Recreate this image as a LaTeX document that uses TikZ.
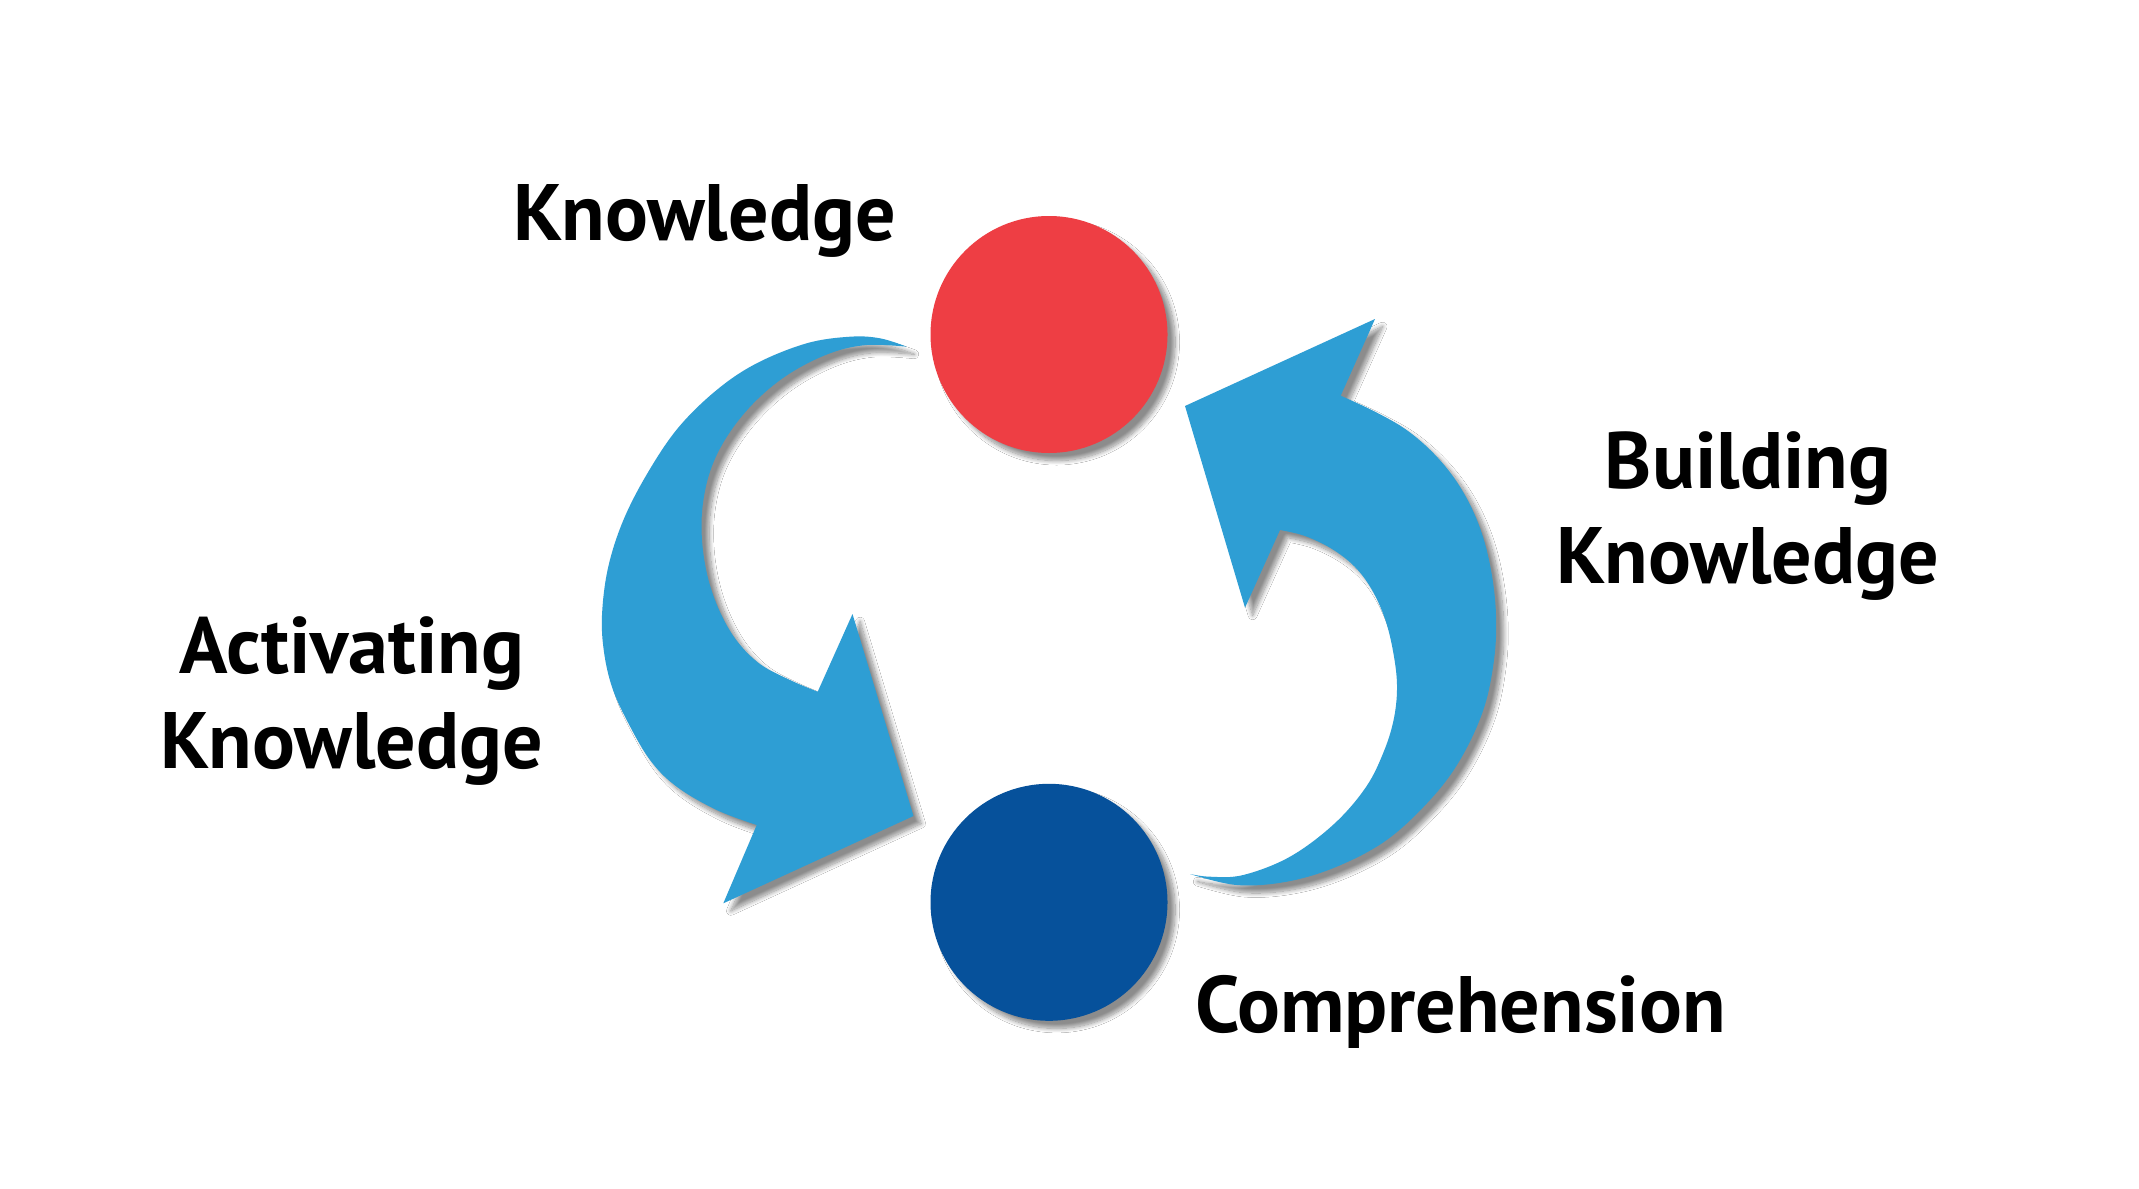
\documentclass[tikz,border=0pt]{standalone}
\usepackage{fontspec}
\setmainfont{PT Sans}
\usetikzlibrary{shadows.blur}
\definecolor{kred}{HTML}{EE3E44}
\definecolor{kdark}{HTML}{06519B}
\definecolor{karrow}{HTML}{2E9ED4}
\begin{document}
\begin{tikzpicture}[x=0.5pt,y=-0.5pt,
  shade/.style={blur shadow={shadow xshift=3.8pt,shadow yshift=-3.8pt,shadow blur radius=2.2pt,shadow blur steps=12,shadow opacity=45}},
  dot/.style={circle,inner sep=0pt,minimum size=118.5pt,shade},
  lbl/.style={font=\fontsize{40}{47.5}\selectfont\bfseries,align=center,inner sep=0pt,anchor=base},
  bigarrow/.style={fill=karrow,shade}]
\path[use as bounding box,fill=white] (0,0) rectangle (2139,1188);

% left arrow (Knowledge -> Comprehension)
\path[bigarrow] (906.7,346.7)
  -- plot[smooth,tension=0.6] coordinates {(906.7,346.7) (880,338.3) (850,336.7) (806.7,343.3) (756.7,363.3) (716.7,390) (678,428) (647,474) (623,521) (608,568) (602,615) (604,652) (612,687) (626.7,720) (650,760) (676.7,786.7) (716.7,810) (756.7,825)}
  -- (723.3,903.3) -- (913.5,816) -- (852.5,614) -- (817.7,691.7)
  -- plot[smooth,tension=0.6] coordinates {(817.7,691.7) (790,680) (760,664) (737,641) (720,612) (708,578) (702,540) (703,503) (712,466) (730,432) (756.7,400) (790,373.3) (830,353.3) (866.7,345) (906.7,346.7)}
  -- cycle;

% right arrow (Comprehension -> Knowledge)
\path[bigarrow] (1190,874)
  -- plot[smooth,tension=0.6] coordinates {(1190,874) (1236.7,885) (1286.7,881.7) (1336.7,866.7) (1386.7,840) (1430,800) (1460,760) (1483.3,710) (1494,660) (1496,615) (1491,570) (1480,528) (1462,490) (1438,458) (1408,431) (1375,411.7) (1340.7,395.7)}
  -- (1375,319) -- (1185,406) -- (1245,607.7) -- (1280,530)
  -- plot[smooth,tension=0.6] coordinates {(1280,530) (1305,536) (1332,549) (1355,567) (1372,590) (1385,619) (1393,651) (1397,685) (1394,718) (1384,751) (1366,787) (1334,824) (1290,856.7) (1243.3,875) (1210,876.7) (1190,874)}
  -- cycle;

\node[dot,fill=kred] (knowledge) at (1049,334.5) {};
\node[dot,fill=kdark] (comprehension) at (1049,902.3) {};

\node[lbl] (tKnow) at (704.5,240) {Knowledge};
\node[lbl] (tAct) at (352,768) {Activating\\Knowledge};
\node[lbl] (tBuild) at (1748,583) {Building\\Knowledge};
\node[lbl] (tComp) at (1460.5,1032) {Comprehension};
\end{tikzpicture}
\end{document}
